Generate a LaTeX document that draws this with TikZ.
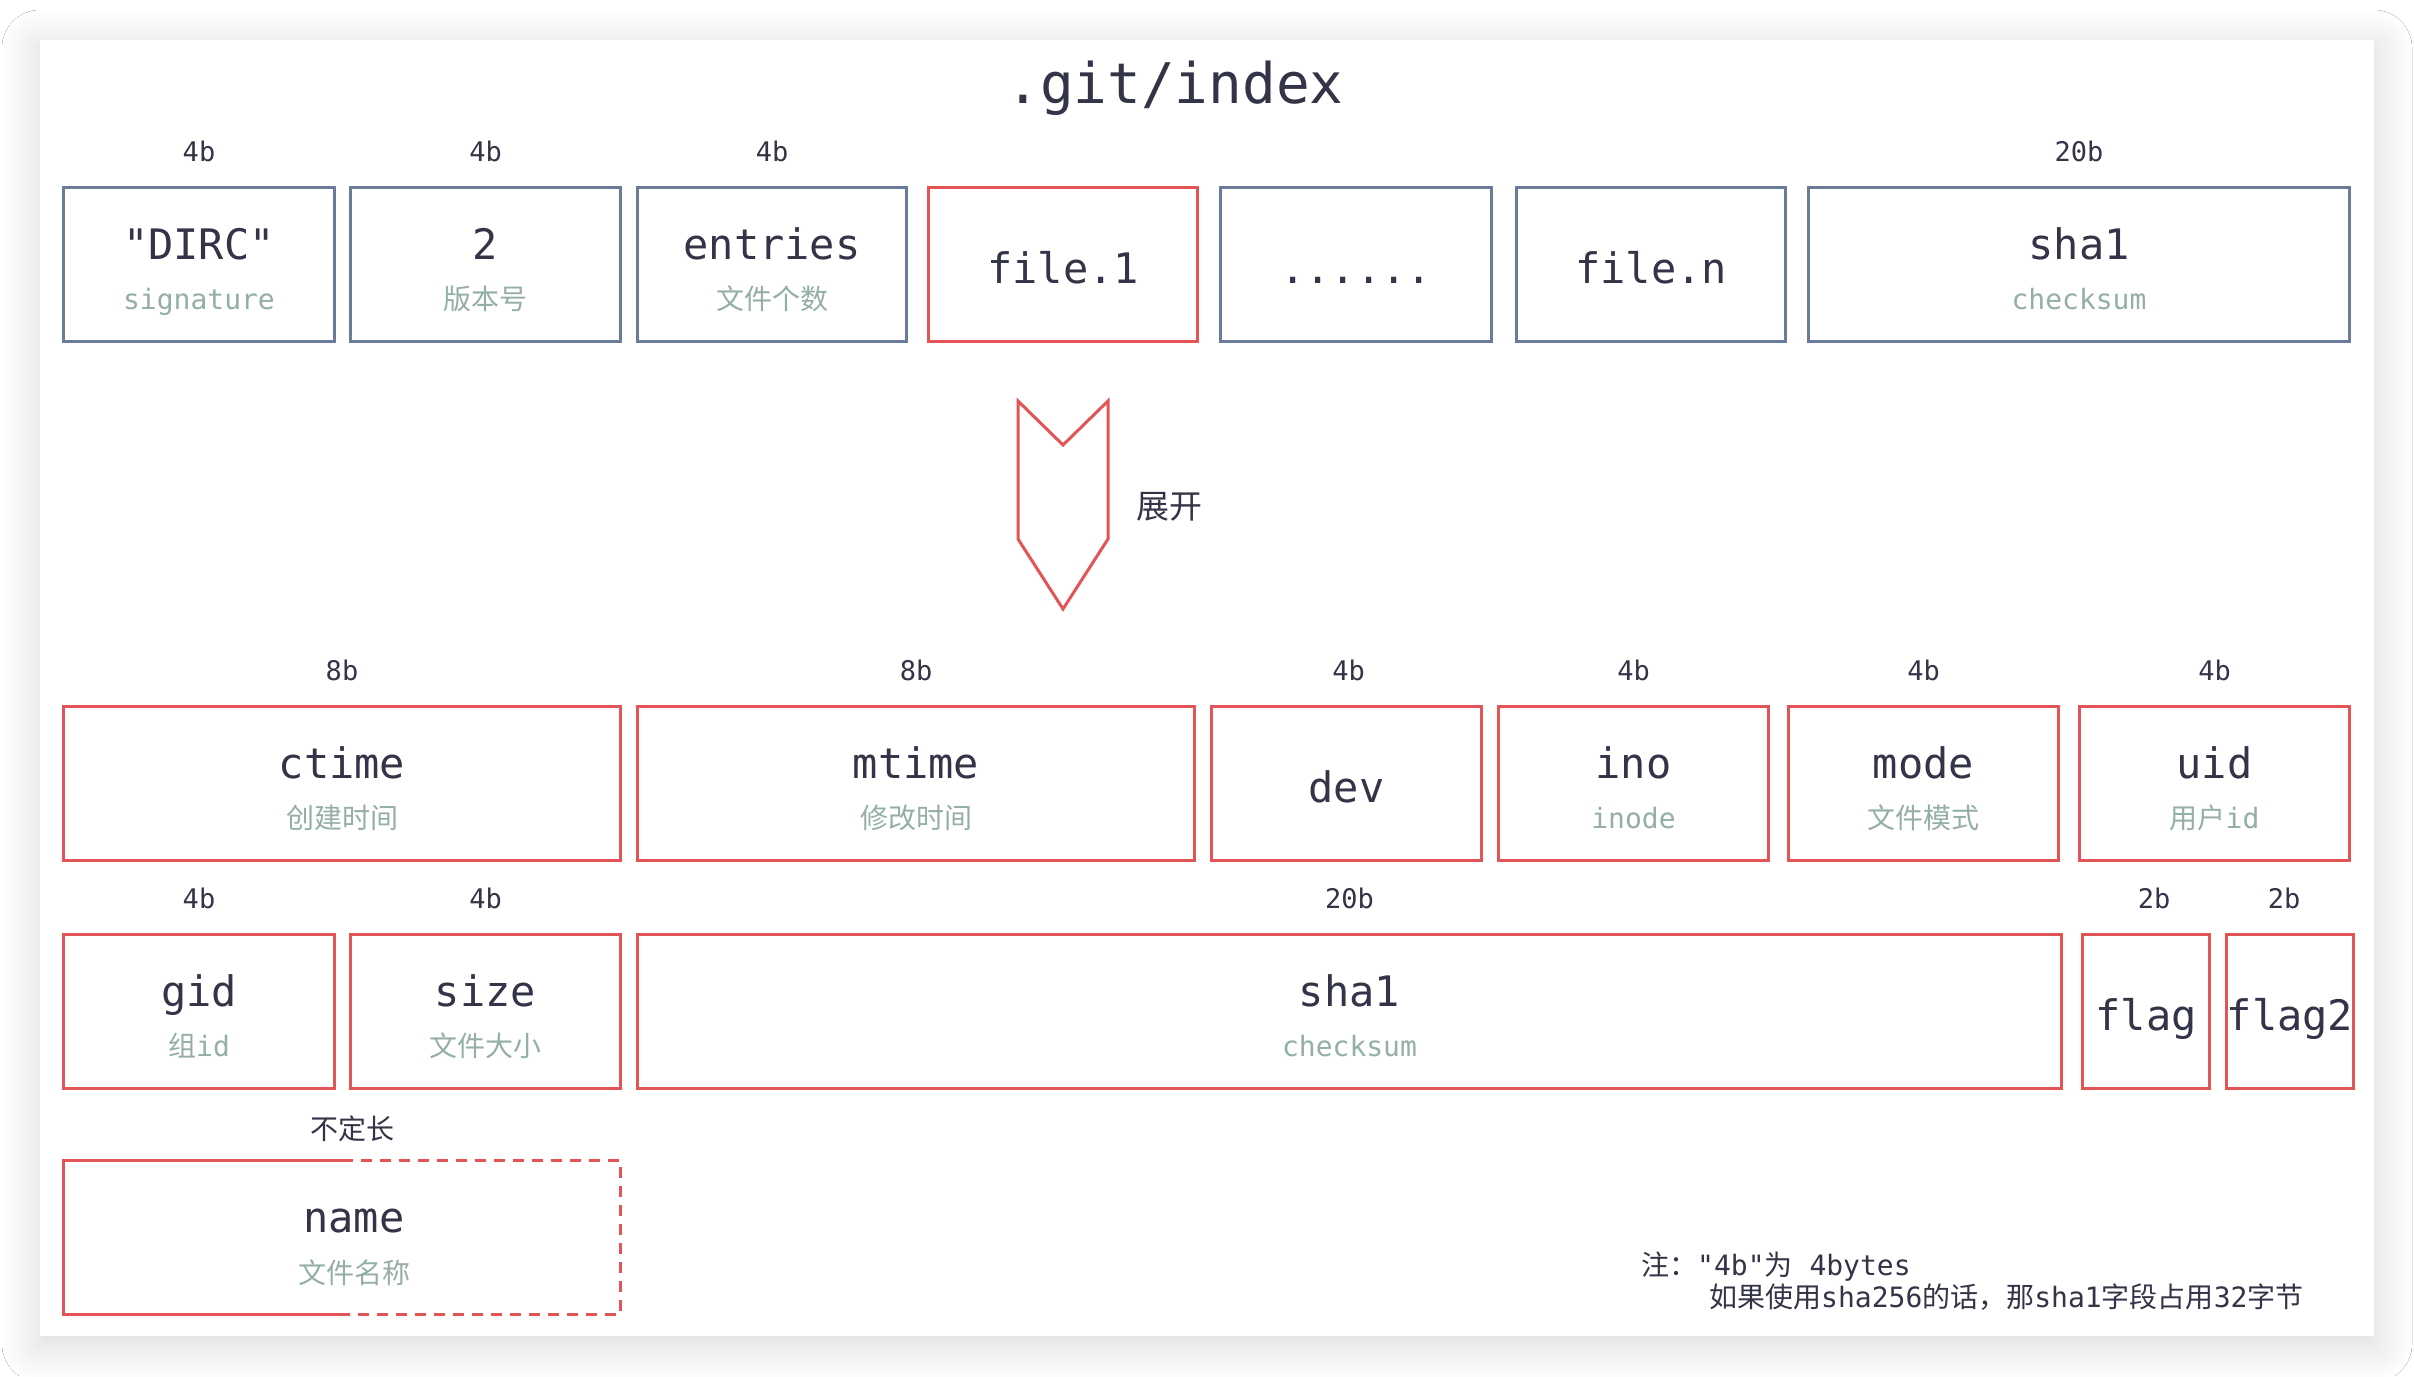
\documentclass[tikz,border=0pt]{standalone}
\usepackage{fontspec}
\setmonofont{DejaVu Sans Mono}
\newfontfamily\cjk{Noto Sans CJK SC}
\usetikzlibrary{calc,shadows.blur}
\definecolor{bluegray}{HTML}{6B7C9B}
\definecolor{redc}{HTML}{E25455}
\definecolor{darktext}{HTML}{333447}
\definecolor{subtext}{HTML}{94AFA3}
\begin{document}
\begin{tikzpicture}[x=1pt,y=-1pt,font=\ttfamily,
  fbox/.style={draw=bluegray,line width=3pt,inner sep=0pt,outer sep=0pt,minimum height=154pt,anchor=north west},
  rbox/.style={fbox,draw=redc},
  mainlbl/.style={font=\ttfamily\fontsize{42}{50}\selectfont,text=darktext,anchor=base,inner sep=0pt},
  sublbl/.style={font=\ttfamily\fontsize{28}{34}\selectfont,text=subtext,anchor=base,inner sep=0pt},
  sizelbl/.style={font=\ttfamily\fontsize{27}{32}\selectfont,text=darktext,anchor=base,inner sep=0pt},
  notelbl/.style={font=\ttfamily\fontsize{28}{34}\selectfont,text=darktext,anchor=base west,inner sep=0pt},
  redline/.style={draw=redc,line width=3pt},
]
\useasboundingbox (0,0) rectangle (2414,1376);
\fill[white] (0,0) rectangle (2414,1376);
\fill[white,blur shadow={shadow xshift=0pt,shadow yshift=-8pt,shadow blur radius=38pt,shadow blur steps=20,shadow opacity=16}] (40,40) rectangle (2374,1336);

% title
\node[font=\ttfamily\fontsize{56}{64}\selectfont,text=darktext,anchor=base,inner sep=0pt] (title) at (1175,103) {.git/index};

% row 1
\node[fbox,minimum width=271pt] (dirc) at (63.5,187.5) {};
\node[fbox,minimum width=270pt] (ver) at (350.5,187.5) {};
\node[fbox,minimum width=269pt] (ent) at (637.5,187.5) {};
\node[rbox,minimum width=269pt] (fone) at (928.5,187.5) {};
\node[fbox,minimum width=271pt] (dots) at (1220.5,187.5) {};
\node[fbox,minimum width=269pt] (fn) at (1516.5,187.5) {};
\node[fbox,minimum width=541pt] (sumA) at (1808.5,187.5) {};

\node[sizelbl] (dircS) at ($(dirc.north)+(0,-26)$) {4b};
\node[sizelbl] (verS) at ($(ver.north)+(0,-26)$) {4b};
\node[sizelbl] (entS) at ($(ent.north)+(0,-26)$) {4b};
\node[sizelbl] (sumAS) at ($(sumA.north)+(0,-26)$) {20b};

\node[mainlbl] (dircT) at ($(dirc.north)+(0,72)$) {"DIRC"};
\node[sublbl] (dircU) at ($(dirc.north)+(0,122)$) {signature};
\node[mainlbl] (verT) at ($(ver.north)+(0,72)$) {2};
\node[sublbl] (verU) at ($(ver.north)+(0,122)$) {\cjk 版本号};
\node[mainlbl] (entT) at ($(ent.north)+(0,72)$) {entries};
\node[sublbl] (entU) at ($(ent.north)+(0,122)$) {\cjk 文件个数};
\node[mainlbl] (foneT) at ($(fone.north)+(0,96)$) {file.1};
\node[mainlbl] (dotsT) at ($(dots.north)+(0,96)$) {......};
\node[mainlbl] (fnT) at ($(fn.north)+(0,96)$) {file.n};
\node[mainlbl] (sumAT) at ($(sumA.north)+(0,72)$) {sha1};
\node[sublbl] (sumAU) at ($(sumA.north)+(0,122)$) {checksum};

% expand arrow
\draw[redline,line join=miter] (1018,401) -- (1063,445) -- (1108,401) -- (1108,539) -- (1063,609) -- (1018,539) -- cycle;
\node[font=\cjk\fontsize{33}{40}\selectfont,text=darktext,inner sep=0pt] (expand) at (1169,507) {展开};

% row 2
\node[rbox,minimum width=557pt] (ctime) at (63.5,706.5) {};
\node[rbox,minimum width=557pt] (mtime) at (637.5,706.5) {};
\node[rbox,minimum width=270pt] (dev) at (1211.5,706.5) {};
\node[rbox,minimum width=270pt] (ino) at (1498.5,706.5) {};
\node[rbox,minimum width=270pt] (mode) at (1788.5,706.5) {};
\node[rbox,minimum width=270pt] (uid) at (2079.5,706.5) {};

\node[sizelbl] (ctimeS) at ($(ctime.north)+(0,-26)$) {8b};
\node[sizelbl] (mtimeS) at ($(mtime.north)+(0,-26)$) {8b};
\node[sizelbl] (devS) at ($(dev.north)+(2,-26)$) {4b};
\node[sizelbl] (inoS) at ($(ino.north)+(0,-26)$) {4b};
\node[sizelbl] (modeS) at ($(mode.north)+(0,-26)$) {4b};
\node[sizelbl] (uidS) at ($(uid.north)+(0,-26)$) {4b};

\node[mainlbl] (ctimeT) at ($(ctime.north)+(0,72)$) {ctime};
\node[sublbl] (ctimeU) at ($(ctime.north)+(0,122)$) {\cjk 创建时间};
\node[mainlbl] (mtimeT) at ($(mtime.north)+(0,72)$) {mtime};
\node[sublbl] (mtimeU) at ($(mtime.north)+(0,122)$) {\cjk 修改时间};
\node[mainlbl] (devT) at ($(dev.north)+(0,96)$) {dev};
\node[mainlbl] (inoT) at ($(ino.north)+(0,72)$) {ino};
\node[sublbl] (inoU) at ($(ino.north)+(0,122)$) {inode};
\node[mainlbl] (modeT) at ($(mode.north)+(0,72)$) {mode};
\node[sublbl] (modeU) at ($(mode.north)+(0,122)$) {\cjk 文件模式};
\node[mainlbl] (uidT) at ($(uid.north)+(0,72)$) {uid};
\node[sublbl] (uidU) at ($(uid.north)+(0,122)$) {{\cjk 用户}id};

% row 3
\node[rbox,minimum width=271pt] (gid) at (63.5,934.5) {};
\node[rbox,minimum width=270pt] (size) at (350.5,934.5) {};
\node[rbox,minimum width=1424pt] (shaB) at (637.5,934.5) {};
\node[rbox,minimum width=127pt] (flag) at (2082.5,934.5) {};
\node[rbox,minimum width=127pt] (flagb) at (2226.5,934.5) {};

\node[sizelbl] (gidS) at ($(gid.north)+(0,-26)$) {4b};
\node[sizelbl] (sizeS) at ($(size.north)+(0,-26)$) {4b};
\node[sizelbl] (shaBS) at ($(shaB.north)+(0,-26)$) {20b};
\node[sizelbl] (flagS) at ($(flag.north)+(8,-26)$) {2b};
\node[sizelbl] (flagbS) at ($(flagb.north)+(-6,-26)$) {2b};

\node[mainlbl] (gidT) at ($(gid.north)+(0,72)$) {gid};
\node[sublbl] (gidU) at ($(gid.north)+(0,122)$) {{\cjk 组}id};
\node[mainlbl] (sizeT) at ($(size.north)+(0,72)$) {size};
\node[sublbl] (sizeU) at ($(size.north)+(0,122)$) {\cjk 文件大小};
\node[mainlbl] (shaBT) at ($(shaB.north)+(0,72)$) {sha1};
\node[sublbl] (shaBU) at ($(shaB.north)+(0,122)$) {checksum};
\node[mainlbl] (flagT) at ($(flag.north)+(0,96)$) {flag};
\node[mainlbl] (flagbT) at ($(flagb.north)+(0,96)$) {flag2};

% row 4: name (variable length)
\node[inner sep=0pt,outer sep=0pt,minimum width=557pt,minimum height=154pt,anchor=north west] (namebox) at (63.5,1160.5) {};
\draw[redline,line join=miter] (namebox.north) -- (namebox.north west) -- (namebox.south west) -- (namebox.south);
\draw[redline,dash pattern=on 11pt off 8pt] (namebox.north) -- (namebox.north east) -- (namebox.south east) -- (namebox.south);
\node[font=\cjk\fontsize{28}{34}\selectfont,text=darktext,anchor=base,inner sep=0pt] (nameS) at ($(namebox.north)+(10,-21)$) {不定长};
\node[mainlbl] (nameT) at ($(namebox.north)+(12,72)$) {name};
\node[sublbl] (nameU) at ($(namebox.north)+(12,123)$) {\cjk 文件名称};

% note
\node[notelbl] (noteA) at (1641,1275) {{\cjk 注：}"4b"{\cjk 为} 4bytes};
\node[notelbl] (noteB) at (1709,1307) {{\cjk 如果使用}sha256{\cjk 的话，那}sha1{\cjk 字段占用}32{\cjk 字节}};
\end{tikzpicture}
\end{document}
